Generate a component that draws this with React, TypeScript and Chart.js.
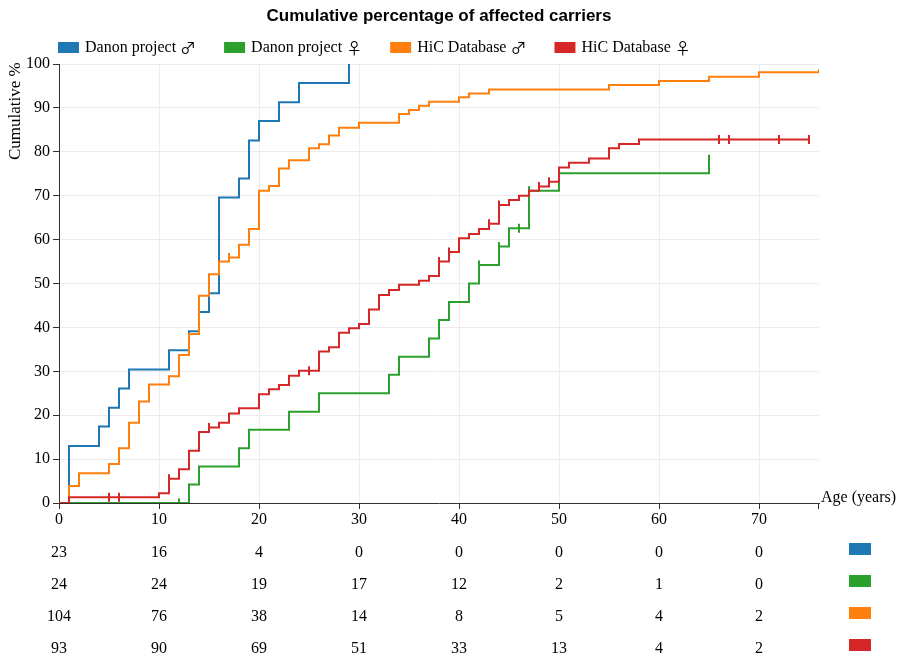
import React, { useEffect, useRef } from "react";
import { Chart, registerables } from "chart.js";

Chart.register(...registerables);

// ---------- data ----------
const seriesNames = ["Danon project", "Danon project", "HiC Database", "HiC Database"];
const seriesSymbols = ["♂", "♀", "♂", "♀"];
const seriesColors = ["#1f77b4", "#2ca02c", "#ff7f0e", "#d62728"];

// Danon project male
const blueAges = [0, 1, 4, 5, 6, 7, 11, 13, 14, 15, 16, 18, 19, 20, 22, 24, 29];
const blueValues = [0, 13.0, 17.4, 21.7, 26.1, 30.4, 34.8, 39.1, 43.5, 47.8, 69.6, 73.9, 82.6, 87.0, 91.3, 95.7, 100];
const blueCensored: number[] = [];

// Danon project female
const greenAges = [0, 13, 14, 18, 19, 23, 26, 33, 34, 37, 38, 39, 41, 42, 44, 45, 47, 50, 65];
const greenValues = [0, 4.2, 8.3, 12.5, 16.7, 20.8, 25.0, 29.2, 33.3, 37.5, 41.7, 45.8, 50.0, 54.2, 58.4, 62.6, 71.1, 75.1, 79.3];
const greenCensored = [12, 42, 44, 46, 47];

// HiC Database male
const orangeAges = [0, 1, 2, 5, 6, 7, 8, 9, 11, 12, 13, 14, 15, 16, 17, 18, 19, 20, 21, 22, 23, 25, 26, 27, 28, 30, 34, 35, 36, 37, 40, 41, 43, 55, 60, 65, 70, 76];
const orangeValues = [0, 3.9, 6.8, 8.9, 12.5, 18.3, 23.1, 27.0, 28.9, 33.7, 38.5, 47.2, 52.1, 55.0, 55.9, 58.8, 62.4, 71.1, 72.2, 76.2, 78.1, 80.8, 81.7, 83.7, 85.5, 86.6, 88.6, 89.5, 90.5, 91.4, 92.4, 93.3, 94.2, 95.2, 96.1, 97.1, 98.1, 98.8];
const orangeCensored = [17];

// HiC Database female
const redAges = [0, 1, 10, 11, 12, 13, 14, 15, 16, 17, 18, 20, 21, 22, 23, 24, 26, 27, 28, 29, 30, 31, 32, 33, 34, 36, 37, 38, 39, 40, 41, 42, 43, 44, 45, 46, 47, 48, 49, 50, 51, 53, 55, 56, 58, 75];
const redValues = [0, 1.3, 2.2, 5.5, 7.7, 11.9, 16.2, 17.2, 18.3, 20.4, 21.6, 24.8, 25.9, 26.9, 29.0, 30.1, 34.5, 35.5, 38.8, 39.8, 40.8, 44.1, 47.4, 48.5, 49.7, 50.6, 51.7, 55.0, 57.2, 60.3, 61.3, 62.4, 63.6, 67.9, 69.0, 70.0, 71.1, 72.1, 73.2, 76.4, 77.5, 78.5, 80.8, 81.8, 82.8, 82.8];
const redCensored = [5, 6, 11, 15, 25, 38, 39, 43, 44, 48, 49, 66, 67, 72, 75];

// numbers at risk
const riskAges = [0, 10, 20, 30, 40, 50, 60, 70];
const riskBlue = [23, 16, 4, 0, 0, 0, 0, 0];
const riskGreen = [24, 24, 19, 17, 12, 2, 1, 0];
const riskOrange = [104, 76, 38, 14, 8, 5, 4, 2];
const riskRed = [93, 90, 69, 51, 33, 13, 4, 2];

const xTickValues = [0, 10, 20, 30, 40, 50, 60, 70];

const TITLE = "Cumulative percentage of affected carriers";
const X_TITLE = "Age (years)";
const Y_TITLE = "Cumulative %";

// ---------- helpers ----------
const SERIF = '"Liberation Serif", "Times New Roman", Times, serif';
const SANS = '"Liberation Sans", Arial, Helvetica, sans-serif';
const SYMBOL_FONT = '"Noto Sans CJK JP", "DejaVu Sans", sans-serif';

function stepAt(ages: number[], values: number[], a: number): number {
  let v = values[0];
  for (let i = 0; i < ages.length; i++) {
    if (ages[i] <= a) v = values[i];
  }
  return v;
}

const allAges = [blueAges, greenAges, orangeAges, redAges];
const allValues = [blueValues, greenValues, orangeValues, redValues];
const allCensored = [blueCensored, greenCensored, orangeCensored, redCensored];
const allRisk = [riskBlue, riskGreen, riskOrange, riskRed];

const overlayPlugin = {
  id: "overlay",
  afterDraw(chart: any) {
    const ctx = chart.ctx as CanvasRenderingContext2D;
    const area = chart.chartArea;
    const xs = chart.scales.x;
    ctx.save();

    // title
    ctx.fillStyle = "#000";
    ctx.font = `bold 17px ${SANS}`;
    ctx.textAlign = "center";
    ctx.textBaseline = "middle";
    ctx.fillText(TITLE, (area.left + area.right) / 2, 16);

    // legend
    ctx.textAlign = "left";
    let lx = area.left - 1;
    for (let i = 0; i < seriesNames.length; i++) {
      ctx.fillStyle = seriesColors[i];
      ctx.fillRect(lx, 42, 21, 11);
      ctx.fillStyle = "#000";
      ctx.font = `16px ${SERIF}`;
      const name = seriesNames[i] + " ";
      ctx.fillText(name, lx + 27, 48);
      const w1 = ctx.measureText(name).width;
      ctx.font = `16px ${SYMBOL_FONT}`;
      ctx.fillText(seriesSymbols[i], lx + 27 + w1, 48);
      const w2 = ctx.measureText(seriesSymbols[i]).width;
      lx += 27 + w1 + w2 + 28;
    }

    // y title
    ctx.font = `17px ${SERIF}`;
    ctx.save();
    ctx.translate(16, 160);
    ctx.rotate(-Math.PI / 2);
    ctx.textAlign = "left";
    ctx.textBaseline = "middle";
    ctx.fillText(Y_TITLE, 0, 0);
    ctx.restore();

    // x title + end tick
    ctx.font = `16px ${SERIF}`;
    ctx.textAlign = "left";
    ctx.textBaseline = "alphabetic";
    ctx.fillText(X_TITLE, area.right + 2, area.bottom - 1);
    ctx.strokeStyle = "#333";
    ctx.lineWidth = 1;
    ctx.beginPath();
    ctx.moveTo(Math.round(area.right) - 0.5, area.bottom);
    ctx.lineTo(Math.round(area.right) - 0.5, area.bottom + 6);
    ctx.stroke();

    // risk table
    ctx.textAlign = "center";
    ctx.textBaseline = "middle";
    for (let r = 0; r < allRisk.length; r++) {
      const rowY = area.bottom + 48 + r * 32;
      ctx.fillStyle = "#000";
      for (let k = 0; k < riskAges.length; k++) {
        ctx.fillText(String(allRisk[r][k]), xs.getPixelForValue(riskAges[k]), rowY + 2);
      }
      ctx.fillStyle = seriesColors[r];
      ctx.fillRect(849, rowY - 8, 22, 12);
    }
    ctx.restore();
  },
};

export default function App() {
  const canvasRef = useRef<HTMLCanvasElement | null>(null);

  useEffect(() => {
    const canvas = canvasRef.current;
    if (!canvas) return;
    const datasets: any[] = [];
    for (let i = 0; i < 4; i++) {
      datasets.push({
        label: seriesNames[i] + " " + seriesSymbols[i],
        data: allAges[i].map((a, k) => ({ x: a, y: allValues[i][k] })),
        borderColor: seriesColors[i],
        backgroundColor: seriesColors[i],
        borderWidth: 2,
        pointRadius: 0,
        stepped: "before",
        fill: false,
        order: 8 - i * 2,
      });
      datasets.push({
        label: seriesNames[i] + " censored",
        data: allCensored[i].map((a) => ({ x: a, y: stepAt(allAges[i], allValues[i], a) })),
        borderColor: seriesColors[i],
        backgroundColor: seriesColors[i],
        showLine: false,
        pointStyle: "line",
        rotation: 90,
        pointRadius: 4.5,
        borderWidth: 2,
        order: 7 - i * 2,
      });
    }

    const tickFont = { family: SERIF, size: 16 };
    const chart = new Chart(canvas, {
      type: "line",
      data: { datasets },
      options: {
        animation: false,
        responsive: false,
        maintainAspectRatio: false,
        events: [],
        layout: { padding: { left: 0, right: 85, top: 64, bottom: 0 } },
        plugins: {
          legend: { display: false },
          title: { display: false },
          tooltip: { enabled: false },
        },
        scales: {
          x: {
            type: "linear",
            min: 0,
            max: 76,
            afterBuildTicks: (scale: any) => {
              scale.ticks = xTickValues.map((v) => ({ value: v }));
            },
            ticks: {
              includeBounds: false,
              font: tickFont,
              color: "#000",
              padding: 1,
              maxRotation: 0,
              autoSkip: false,
            },
            grid: { color: "#ececec", tickColor: "#333", tickLength: 6, lineWidth: 1 },
            border: { color: "#333", width: 1 },
            afterFit: (scale: any) => {
              scale.height = 158;
            },
          },
          y: {
            type: "linear",
            min: 0,
            max: 100,
            ticks: { stepSize: 10, font: tickFont, color: "#000", padding: 3 },
            grid: { color: "#ececec", tickColor: "#333", tickLength: 6, lineWidth: 1 },
            border: { color: "#333", width: 1 },
            afterFit: (scale: any) => {
              scale.width = 59;
            },
          },
        },
      } as any,
      plugins: [overlayPlugin],
    });
    return () => chart.destroy();
  }, []);

  return (
    <div style={{ position: "fixed", left: 0, top: 0, width: 904, height: 661, background: "#fff" }}>
      <canvas ref={canvasRef} width={904} height={661} style={{ width: 904, height: 661, display: "block" }} />
    </div>
  );
}
